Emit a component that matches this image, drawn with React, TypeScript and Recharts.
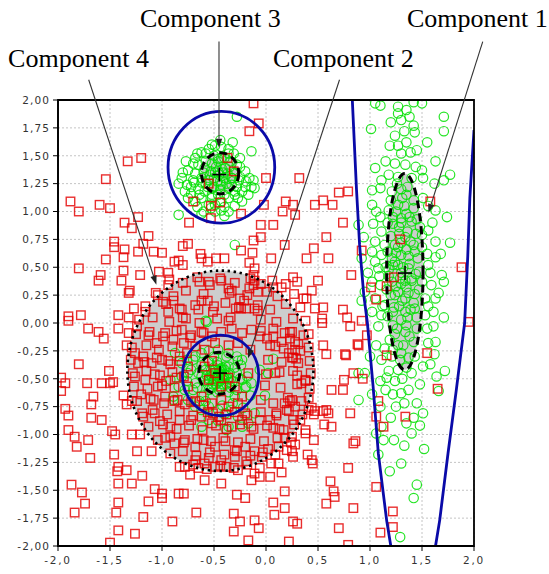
import React from 'react';
import {
  ScatterChart,
  Scatter,
  XAxis,
  YAxis,
  CartesianGrid,
  ReferenceArea,
  ReferenceLine,
  ReferenceDot,
} from 'recharts';

// ---------- axis ticks ----------
const xTicks = [-2, -1.5, -1, -0.5, 0, 0.5, 1, 1.5, 2];
const yTicks = [-2, -1.75, -1.5, -1.25, -1, -0.75, -0.5, -0.25, 0, 0.25, 0.5, 0.75, 1, 1.25, 1.5, 1.75, 2];

// ---------- red squares (class A) ----------
const redSquares: [number, number][] = [
  [-0.12, 1.97], [-1.33, 1.45], [-1.2, 1.48], [-1.54, 1.29], [-1.88, 1.09], [-1.8, 1.0], [-1.6, 1.06], [-1.5, 1.03],
  [-0.16, 1.72], [-0.07, 1.79], [-0.74, 0.9], [-1.36, 0.9], [-1.29, 0.85], [-1.23, 0.95], [-1.13, 0.78], [-1.46, 0.73],
  [-1.46, 0.68], [-1.36, 0.66], [-1.37, 0.59], [-1.54, 0.57], [-1.8, 0.49], [-1.23, 0.64], [-1.18, 0.71], [-1.08, 0.64],
  [-1.0, 0.63], [-0.8, 0.69], [-0.75, 0.71], [-0.63, 0.62], [-0.88, 0.55], [-0.84, 0.56], [-0.8, 0.52], [-0.94, 0.45],
  [-1.37, 0.47], [-1.21, 0.43], [-1.59, 0.43], [-1.61, 0.38], [-1.39, 0.38], [-1.31, 0.29], [-1.32, 0.27], [-0.62, 0.58],
  [-0.56, 0.55], [-0.48, 0.58], [-0.4, 0.58], [-0.24, 0.65], [-0.13, 0.63], [-0.12, 0.74], [-0.16, 0.54], [-0.11, 0.49],
  [-0.12, 0.43], [-0.05, 0.77], [-0.05, 0.88], [-0.02, 1.06], [0.0, 1.3], [-0.24, 0.98], [-0.53, 0.94], [-0.7, 1.09],
  [-0.53, 1.05], [-0.44, 1.08], [-0.37, 1.48], [-0.31, 1.36], [-0.55, 1.25], [-1.03, 0.46], [-0.94, 0.34], [-1.04, 0.25],
  [-0.99, 0.19], [-0.89, 0.2], [-0.81, 0.12], [-0.94, 0.1], [-0.64, 0.37], [-0.54, 0.34], [-0.43, 0.38], [-0.36, 0.31],
  [-0.33, 0.29], [-0.25, 0.22], [-0.21, 0.2], [-0.19, 0.13], [-0.11, 0.13], [-0.08, 0.11], [-0.62, 0.2], [-0.56, 0.2],
  [-0.65, 0.12], [-0.51, 0.1], [-0.29, 0.13], [-1.9, 0.06], [-1.78, 0.07], [-1.42, 0.07], [-1.32, 0.05], [-1.27, 0.13],
  [-1.16, 0.1], [-0.12, 0.34], [-0.11, 0.38], [-0.08, 0.28], [-0.16, 0.31], [-0.34, 0.05], [-0.8, 0.05], [-0.24, 0.13],
  [0.32, 1.3], [0.19, 1.09], [0.26, 1.06], [0.16, 1.0], [0.28, 0.97], [0.47, 1.06], [0.55, 1.1], [0.64, 1.06],
  [0.7, 1.17], [0.79, 1.18], [0.74, 0.9], [0.07, 0.88], [0.58, 0.77], [0.18, 0.7], [0.46, 0.67], [0.39, 0.58],
  [0.6, 0.58], [0.05, 0.58], [0.92, 0.65], [1.29, 0.75], [1.58, 1.09], [0.82, 0.43], [0.26, 0.41], [0.3, 0.37],
  [0.5, 0.38], [0.15, 0.32], [0.07, 0.32], [0.44, 0.29], [0.36, 0.22], [0.39, 0.22], [0.55, 0.14], [0.47, 0.13],
  [0.74, 0.12], [1.01, 0.32], [1.16, 0.33], [1.23, 0.41], [1.06, 0.21], [1.88, 0.5], [1.95, 0.01], [0.78, 0.05],
  [0.92, 0.02], [0.54, 0.04], [1.16, -0.29], [1.55, -0.27], [1.65, -0.59], [0.97, -0.11], [0.89, -0.2], [0.77, -0.29],
  [0.84, -0.45], [0.93, -0.5],
  [0.07, -0.05], [0.01, -0.14], [0.18, -0.09], [0.25, -0.08], [0.28, -0.17], [0.41, -0.1], [0.22, -0.27], [0.26, -0.31],
  [0.55, -0.2], [0.58, -0.28], [0.76, -0.28], [0.88, -0.19], [0.81, -0.03], [0.54, 0.0], [0.75, -0.51], [0.63, -0.6],
  [0.74, -0.6], [0.38, -0.52], [0.26, -0.43], [0.09, -0.45], [0.41, -0.67], [0.23, -0.7], [0.55, -0.79], [0.6, -0.81],
  [0.46, -0.82], [0.63, -0.93], [0.56, -0.91], [0.81, -0.81], [1.08, -0.7], [1.06, -0.84], [1.13, -0.93], [1.34, -0.84],
  [0.38, -0.99], [0.46, -1.05], [0.28, -1.09], [0.25, -1.15], [0.4, -1.18], [0.45, -1.26], [0.86, -1.06], [0.84, -1.08],
  [0.79, -1.3], [0.05, -1.26], [0.15, -1.34], [0.04, -1.38], [0.18, -1.51], [0.18, -1.66], [0.07, -1.61], [0.08, -1.72],
  [0.62, -1.42], [0.65, -1.51], [0.66, -1.56], [0.58, -1.62], [0.84, -1.66], [1.06, -1.47], [1.22, -1.69], [1.22, -1.83],
  [1.1, -1.88], [0.7, -1.84], [0.26, -1.78], [0.3, -1.8], [0.22, -1.96], [0.79, -1.99],
  [0.09, -0.21], [0.15, -0.17], [0.23, -0.14], [0.28, -0.24], [0.33, -0.25], [0.25, -0.31], [0.31, -0.36], [0.34, -0.54],
  [0.38, -0.51], [0.25, -0.69], [0.18, -0.72], [0.28, -0.75], [0.1, -0.81], [0.2, -0.78], [0.04, -0.87], [0.07, -0.94],
  [0.25, -1.02], [0.18, -1.03], [0.12, -1.11], [0.02, -1.13], [0.12, -1.26], [0.44, -0.76], [0.47, -0.79], [0.26, -0.87],
  [0.17, -0.96], [0.41, -0.78], [0.58, -0.78], [0.33, -0.87], [0.38, -0.96], [0.2, -1.14], [0.26, -1.2], [0.44, -1.23],
  [-1.9, 0.02], [-1.71, -0.05], [-1.61, -0.08], [-1.56, -0.14], [-1.42, -0.05], [-1.32, -0.09], [-1.34, -0.2], [-1.26, -0.27],
  [-1.8, -0.37], [-1.51, -0.43], [-1.97, -0.49], [-1.93, -0.54], [-1.97, -0.61], [-1.72, -0.54], [-1.58, -0.54], [-1.47, -0.53],
  [-1.5, -0.54], [-1.66, -0.66], [-1.68, -0.73], [-1.37, -0.65], [-1.34, -0.73], [-1.29, -0.7], [-1.93, -0.77], [-1.9, -0.83],
  [-1.68, -0.85], [-1.58, -0.87], [-1.9, -0.96], [-1.84, -1.02], [-1.82, -1.11], [-1.71, -1.05], [-1.48, -0.97], [-1.45, -1.0],
  [-1.29, -1.0], [-1.21, -1.0], [-1.24, -1.15], [-1.1, -1.15], [-1.46, -1.18], [-1.69, -1.21], [-1.42, -1.29], [-1.43, -1.33],
  [-1.34, -1.32], [-1.19, -1.37], [-1.87, -1.45], [-1.77, -1.52], [-1.74, -1.62], [-1.84, -1.7], [-1.42, -1.44], [-1.29, -1.44],
  [-1.42, -1.61], [-1.44, -1.7], [-1.18, -1.74], [-1.42, -1.86], [-1.26, -1.89], [-1.5, -1.97], [-1.07, -1.49], [-1.0, -1.53],
  [-1.0, -1.57], [-0.84, -1.53], [-0.79, -1.53], [-1.13, -1.6], [-0.9, -1.78], [-0.67, -1.7], [-0.59, -1.41], [-0.43, -1.44],
  [-0.28, -1.54], [-0.2, -1.57], [-0.31, -1.71], [-0.11, -1.77], [-0.25, -1.78], [-0.07, -1.84], [-0.31, -1.87], [-0.17, -1.95],
  [-0.06, -1.38], [-0.14, -1.41], [-0.73, -1.36],
  [-1.24, -0.03], [-1.13, -0.11], [-1.05, -0.18], [-0.97, -0.09], [-0.89, -0.15], [-0.81, -0.06], [-0.72, -0.11], [-0.62, -0.08],
  [-0.52, -0.12], [-0.43, -0.08], [-0.33, -0.05], [-0.23, -0.09], [-0.14, -0.06], [-0.06, -0.12], [-1.23, -0.36], [-1.18, -0.3],
  [-1.1, -0.36], [-1.0, -0.33], [-0.92, -0.37], [-0.83, -0.34], [-0.76, -0.27], [-0.68, -0.21], [-0.59, -0.24], [-0.49, -0.18],
  [-0.36, -0.2], [-0.27, -0.18], [-0.15, -0.24], [-1.26, -0.48], [-1.16, -0.51], [-1.07, -0.46], [-1.04, -0.57], [-0.96, -0.52],
  [-0.86, -0.49], [-0.75, -0.57], [-1.2, -0.64], [-1.08, -0.69], [-0.97, -0.66], [-0.88, -0.7], [-0.78, -0.73], [-0.68, -0.7],
  [-1.18, -0.84], [-1.07, -0.81], [-1.02, -0.88], [-0.92, -0.93], [-0.83, -0.87], [-0.72, -0.87], [-0.62, -0.84], [-0.52, -0.9],
  [-0.43, -0.87], [-0.33, -0.93], [-0.23, -0.87], [-0.14, -0.93], [-0.06, -0.87], [-0.97, -1.03], [-0.88, -1.08], [-0.78, -1.05],
  [-0.68, -1.11], [-0.6, -1.05], [-0.49, -1.11], [-0.39, -1.06], [-0.3, -1.14], [-0.2, -1.11], [-0.11, -1.15], [-0.04, -1.2],
  [-0.68, -1.23], [-0.55, -1.21], [-0.43, -1.23], [-0.3, -1.2], [-0.19, -1.24], [-0.78, -1.29], [-0.65, -1.3], [-0.59, -1.26],
  [-0.49, -1.29], [-0.38, -1.29], [-0.27, -1.32], [-0.11, -1.35],
  [-0.59, -0.39], [-0.52, -0.34], [-0.49, -0.45], [-0.55, -0.51], [-0.43, -0.57], [-0.36, -0.49], [-0.3, -0.57], [-0.43, -0.69],
  [-0.52, -0.72], [-0.62, -0.66], [-0.36, -0.75], [-0.27, -0.72], [-0.23, -0.66], [-0.17, -0.45], [-0.75, -0.39], [-0.2, -0.81],
  [-0.51, -0.81], [-0.38, -0.82],
  // denser reading of the component-4 disk
  [-0.93, 0.39], [-0.8, 0.36], [-0.66, 0.41], [-0.55, 0.37], [-0.44, 0.4], [-0.3, 0.36], [-0.15, 0.4], [-0.05, 0.35],
  [0.06, 0.38], [0.19, 0.35], [-1.06, 0.27], [-0.89, 0.24], [-0.77, 0.29], [-0.6, 0.26], [-0.35, 0.27], [-0.18, 0.25],
  [0.01, 0.28], [0.11, 0.24], [0.27, 0.26], [-1.16, 0.15], [-0.96, 0.17], [-0.83, 0.13], [-0.68, 0.16], [-0.5, 0.15],
  [-0.39, 0.18], [-0.26, 0.14], [-0.08, 0.16], [0.04, 0.12], [0.19, 0.17], [0.33, 0.14], [-1.22, 0.03], [-1.09, 0.05],
  [-0.93, 0.01], [-0.77, 0.04], [-0.64, 0.0], [-0.47, 0.04], [-0.36, 0.02], [-0.05, 0.03], [0.1, 0.01], [0.26, 0.04],
  [0.38, 0.02], [-1.25, -0.1], [-1.12, -0.08], [-0.99, -0.12], [-0.86, -0.07], [-0.73, -0.13], [-0.6, -0.09], [-0.05, -0.07],
  [0.07, -0.12], [0.23, -0.08], [0.36, -0.11], [-1.29, -0.22], [-1.15, -0.2], [-1.03, -0.24], [-0.9, -0.21], [-0.79, -0.18],
  [0.04, -0.2], [0.17, -0.23], [0.31, -0.19], [0.41, -0.22], [-1.3, -0.33], [-1.17, -0.35], [-1.05, -0.31], [-0.94, -0.34],
  [-0.83, -0.3], [0.02, -0.33], [0.15, -0.35], [0.29, -0.32], [0.42, -0.34], [-1.28, -0.45], [-1.15, -0.43], [-1.02, -0.47],
  [-0.9, -0.44], [-0.79, -0.48], [0.0, -0.46], [0.13, -0.44], [0.3, -0.47], [0.43, -0.45], [-1.27, -0.57], [-1.14, -0.59],
  [-1.0, -0.56], [-0.88, -0.58], [-0.01, -0.56], [0.14, -0.58], [0.3, -0.55], [0.42, -0.59], [-1.24, -0.7], [-1.11, -0.68],
  [-0.98, -0.72], [-0.85, -0.69], [-0.72, -0.71], [-0.6, -0.74], [-0.05, -0.69], [0.07, -0.72], [0.21, -0.67], [0.34, -0.7],
  [-1.19, -0.81], [-1.09, -0.78], [-0.95, -0.82], [-0.83, -0.79], [-0.7, -0.83], [-0.56, -0.8], [-0.45, -0.84], [-0.3, -0.8],
  [-0.18, -0.83], [-0.05, -0.8], [0.1, -0.83], [0.22, -0.79], [0.35, -0.82], [-1.13, -0.93], [-0.99, -0.91], [-0.86, -0.95],
  [-0.74, -0.92], [-0.61, -0.96], [-0.48, -0.92], [-0.38, -0.95], [-0.25, -0.91], [-0.12, -0.95], [0.01, -0.92], [0.13, -0.95],
  [0.27, -0.91], [-1.04, -1.05], [-0.92, -1.02], [-0.79, -1.07], [-0.66, -1.04], [-0.53, -1.06], [-0.41, -1.03], [-0.27, -1.07],
  [-0.15, -1.04], [-0.02, -1.06], [0.11, -1.03], [0.24, -1.07], [-0.92, -1.17], [-0.8, -1.15], [-0.67, -1.19], [-0.54, -1.16],
  [-0.4, -1.18], [-0.28, -1.15], [-0.15, -1.19], [-0.03, -1.16], [0.09, -1.18], [-0.83, -1.29], [-0.7, -1.27], [-0.57, -1.31],
  [-0.44, -1.28], [-0.31, -1.3], [-0.18, -1.27], [-0.06, -1.3],
];

// ---------- green circles (class B) ----------
const greenCircles: [number, number][] = [
  // component 3
  [-0.68, 1.48], [-0.62, 1.53], [-0.55, 1.56], [-0.49, 1.59], [-0.43, 1.58], [-0.36, 1.56], [-0.31, 1.52], [-0.65, 1.42],
  [-0.75, 1.37], [-0.81, 1.3], [-0.84, 1.25], [-0.76, 1.24], [-0.7, 1.28], [-0.62, 1.3], [-0.54, 1.33], [-0.46, 1.36],
  [-0.39, 1.39], [-0.33, 1.3], [-0.25, 1.31], [-0.19, 1.27], [-0.14, 1.22], [-0.11, 1.21], [-0.23, 1.18], [-0.3, 1.15],
  [-0.36, 1.12], [-0.43, 1.09], [-0.49, 1.06], [-0.55, 1.06], [-0.62, 1.12], [-0.68, 1.09], [-0.75, 1.12], [-0.72, 1.16],
  [-0.59, 1.18], [-0.52, 1.21], [-0.43, 1.24], [-0.36, 1.21], [-0.52, 1.43], [-0.46, 1.45], [-0.43, 1.48], [-0.59, 1.39],
  [-0.28, 1.42], [-0.2, 1.36], [-0.68, 1.34], [-0.49, 1.0], [-0.43, 1.01], [-0.36, 1.0], [-0.52, 1.12], [-0.46, 1.15],
  [-0.23, 1.09], [-0.17, 1.15], [-0.45, 1.33], [-0.5, 1.3], [-0.4, 1.3], [-0.42, 1.38], [-0.48, 1.4], [-0.38, 1.25],
  [-0.55, 1.28], [-0.5, 1.22], [-0.44, 1.2], [-0.35, 1.4], [-0.6, 1.35], [-0.3, 1.35], [-0.65, 1.2], [-0.28, 1.22],
  [-0.58, 1.45], [-0.4, 1.48], [-0.36, 1.52], [-0.47, 1.27], [-0.53, 1.36], [-0.33, 1.3], [-0.62, 1.26], [-0.46, 1.47],
  [-0.25, 1.4], [-0.72, 1.22], [-0.52, 1.15], [-0.4, 1.15], [-0.3, 1.18],
  [-0.78, 1.18], [-0.66, 1.04], [-0.6, 1.0], [-0.4, 1.04], [-0.3, 1.05], [-0.27, 1.12], [-0.16, 1.3], [-0.12, 1.28],
  [-0.2, 1.22], [-0.8, 1.35], [-0.77, 1.45], [-0.7, 1.43], [-0.66, 1.52], [-0.58, 1.52], [-0.5, 1.5], [-0.34, 1.45],
  [-0.25, 1.48], [-0.32, 1.62], [-0.44, 1.64], [-0.52, 1.6], [-0.58, 1.25], [-0.64, 1.15], [-0.41, 1.35], [-0.37, 1.34],
  [-0.49, 1.35], [-0.44, 1.27], [-0.56, 1.22], [-0.33, 1.24], [-0.26, 1.28], [-0.69, 1.26], [-0.53, 1.03], [-0.62, 0.98],
  [-0.4, 0.96],
  [-0.28, 1.85], [-0.14, 1.54], [-0.84, 0.97], [-0.3, 0.7],
  // component 1
  [1.05, 1.97], [1.1, 1.95], [1.27, 1.94], [1.42, 1.98], [1.5, 1.97], [1.27, 1.88], [1.35, 1.91], [1.3, 1.82],
  [1.42, 1.77], [1.71, 1.85], [1.71, 1.72], [1.01, 1.74], [1.24, 1.68], [1.19, 1.59], [1.27, 1.59], [1.35, 1.62],
  [1.43, 1.71], [1.3, 1.52], [1.39, 1.53], [1.24, 1.43], [1.34, 1.42], [1.44, 1.4], [1.5, 1.37], [1.63, 1.45],
  [1.05, 1.39], [1.18, 1.33], [1.27, 1.31], [1.4, 1.3], [1.51, 1.3], [1.77, 1.33], [1.71, 1.28], [1.02, 1.19],
  [1.1, 1.21], [1.11, 1.28], [1.21, 1.18], [1.51, 1.12], [1.63, 1.01], [1.74, 0.95], [1.02, 1.06], [1.06, 1.0],
  [1.18, 1.01], [1.27, 1.06], [1.35, 0.98], [1.42, 1.03], [0.89, 0.88], [1.03, 0.89], [1.11, 0.82], [1.22, 0.89],
  [1.3, 0.94], [1.4, 0.91], [1.48, 0.86], [1.56, 0.83], [0.94, 0.77], [1.05, 0.73], [1.14, 0.7], [1.24, 0.7],
  [1.39, 0.73], [1.5, 0.79], [1.63, 0.73], [1.77, 0.72], [0.92, 0.58], [1.02, 0.64], [1.11, 0.61], [1.21, 0.58],
  [1.3, 0.61], [1.43, 0.64], [1.55, 0.62], [1.63, 0.59], [1.08, 0.49], [1.18, 0.48], [1.27, 0.52], [1.37, 0.49],
  [1.47, 0.46], [1.56, 0.52], [1.69, 0.43], [1.02, 0.37], [0.95, 0.28], [1.1, 0.34], [1.21, 0.37], [1.3, 0.35],
  [1.4, 0.38], [1.5, 0.37], [1.59, 0.34], [1.71, 0.37], [0.92, 0.2], [1.05, 0.22], [1.14, 0.16], [1.24, 0.25],
  [1.34, 0.22], [1.43, 0.26], [1.53, 0.22], [1.63, 0.22], [1.11, 0.07], [1.22, 0.1], [1.34, 0.1], [1.43, 0.13],
  [1.53, 0.07], [1.71, 0.05], [1.61, 0.1],
  [1.3, 0.72], [1.25, 0.63], [1.37, 0.6], [1.3, 0.45], [1.25, 0.33], [1.37, 0.27], [1.3, 0.9], [1.33, 1.05],
  [1.28, 0.8], [1.36, 0.82], [1.32, 0.5], [1.28, 0.15], [1.36, 0.05], [1.22, 0.52], [1.4, 0.4], [1.34, 0.38],
  [1.26, -0.05], [1.38, -0.12], [1.32, -0.2], [1.3, 1.2], [1.35, 1.15], [1.22, 0.95], [1.42, 0.7], [1.2, 0.25],
  [1.42, 0.18],
  [1.26, 1.25], [1.36, 1.22], [1.2, 1.1], [1.31, 1.12], [1.42, 1.1], [1.25, 1.0], [1.38, 0.95], [1.17, 0.9],
  [1.45, 0.93], [1.28, 0.86], [1.34, 0.77], [1.2, 0.78], [1.44, 0.8], [1.27, 0.68], [1.17, 0.64], [1.35, 0.66],
  [1.46, 0.58], [1.24, 0.55], [1.38, 0.53], [1.15, 0.5], [1.29, 0.4], [1.44, 0.44], [1.18, 0.42], [1.35, 0.32],
  [1.27, 0.28], [1.47, 0.3], [1.16, 0.3], [1.31, 0.2], [1.23, 0.14], [1.39, 0.12], [1.17, 0.06], [1.3, 0.03],
  [1.45, 0.05], [1.24, -0.1], [1.34, -0.08], [1.19, -0.15], [1.42, -0.17], [1.29, -0.33], [1.21, -0.3], [1.35, -0.4],
  [1.24, -0.52], [1.31, -0.5], [1.43, -0.3], [1.15, -0.6], [1.25, -0.75], [1.33, -0.72], [1.48, -0.55], [1.4, -0.45],
  [1.2, -0.85], [1.1, -0.75], [1.56, 0.15], [1.58, 0.45], [1.12, 0.15], [1.09, 0.42], [1.5, 0.68], [1.1, 0.95],
  [1.6, 0.9], [1.15, 1.45], [1.45, 1.55], [1.33, 1.72], [1.2, 1.8], [1.55, 1.62], [1.38, 1.85], [1.62, 1.25],
  [1.56, 1.05], [1.05, 0.55], [0.98, 0.45], [1.68, 0.62], [1.66, 0.27], [1.02, 0.1], [1.0, -0.3], [1.55, -0.05],
  [1.62, -0.28], [1.48, -0.92], [1.23, -1.05], [1.33, -1.1],
  [1.08, -0.03], [1.22, -0.02], [1.35, -0.02], [1.45, -0.05], [1.61, -0.03], [1.06, -0.2], [1.14, -0.23], [1.22, -0.24],
  [1.3, -0.27], [1.37, -0.31], [1.27, -0.2], [1.56, -0.18], [1.63, -0.17], [1.51, -0.39], [1.58, -0.37], [1.72, -0.43],
  [1.64, -0.48], [1.11, -0.33], [1.18, -0.43], [1.27, -0.42], [0.95, -0.45], [1.1, -0.52], [1.16, -0.49], [1.22, -0.64],
  [1.3, -0.63], [1.37, -0.6], [1.45, -0.72], [1.02, -0.64], [0.89, -0.69], [1.51, -0.81], [1.42, -0.85], [1.35, -0.9],
  [1.4, -0.99], [1.11, -0.93], [1.13, -1.05], [1.06, -0.99], [1.08, -1.18], [1.52, -1.13], [1.3, -1.26], [1.19, -1.33],
  [1.45, -1.45], [1.42, -1.57], [1.29, -1.92], [1.66, -0.61], [0.89, -0.45],
  // component 2
  [-0.875, -0.27], [-0.81, -0.36], [-0.76, -0.33], [-0.68, -0.3], [-0.62, -0.27], [-0.55, -0.25], [-0.46, -0.24], [-0.36, -0.27],
  [-0.28, -0.3], [-0.23, -0.33], [-0.81, -0.48], [-0.75, -0.45], [-0.84, -0.57], [-0.78, -0.6], [-0.68, -0.54], [-0.62, -0.48],
  [-0.52, -0.45], [-0.43, -0.42], [-0.36, -0.39], [-0.28, -0.45], [-0.23, -0.51], [-0.19, -0.57], [-0.14, -0.54], [-0.75, -0.69],
  [-0.68, -0.75], [-0.62, -0.78], [-0.55, -0.75], [-0.46, -0.78], [-0.39, -0.81], [-0.33, -0.78], [-0.27, -0.84], [-0.36, -0.93],
  [-0.46, -0.88], [-0.55, -0.87], [-0.62, -0.93], [-0.23, -0.93], [-0.17, -0.9], [-0.11, -0.81], [-0.92, -0.51], [-0.89, -0.69],
  [-0.06, -0.42],
  [-0.45, -0.47], [-0.5, -0.45], [-0.4, -0.5], [-0.48, -0.55], [-0.42, -0.4], [-0.55, -0.5], [-0.35, -0.45], [-0.46, -0.38],
  [-0.52, -0.58], [-0.38, -0.55], [-0.44, -0.52], [-0.5, -0.4], [-0.4, -0.42], [-0.58, -0.42], [-0.32, -0.52], [-0.47, -0.62],
  [-0.55, -0.6], [-0.36, -0.62], [-0.6, -0.52], [-0.3, -0.4], [-0.43, -0.46], [-0.47, -0.5], [-0.41, -0.48], [-0.5, -0.52],
  [-0.45, -0.42], [-0.38, -0.47], [-0.52, -0.47], [-0.44, -0.58], [-0.56, -0.55], [-0.34, -0.58], [-0.65, -0.45], [-0.25, -0.5],
  [-0.7, -0.6], [-0.2, -0.58], [-0.6, -0.65], [-0.3, -0.66],
  [-0.46, -0.45], [-0.42, -0.5], [-0.48, -0.48], [-0.44, -0.44], [-0.4, -0.46], [-0.5, -0.5], [-0.46, -0.53], [-0.43, -0.41],
  [-0.53, -0.43], [-0.37, -0.5], [-0.49, -0.42], [-0.41, -0.55], [-0.51, -0.55], [-0.39, -0.39], [-0.57, -0.47], [-0.35, -0.53],
  [-0.45, -0.6], [-0.47, -0.35], [-0.62, -0.38], [-0.28, -0.6], [-0.66, -0.58], [-0.24, -0.38], [-0.72, -0.42], [-0.18, -0.48],
  [-0.58, -0.7], [-0.32, -0.72], [-0.5, -0.3], [-0.38, -0.3], [-0.76, -0.52], [-0.15, -0.65], [-0.7, -0.33], [-0.22, -0.76],
  [-0.42, -0.74], [-0.64, -0.7], [-0.27, -0.34], [-0.55, -0.35],
  // scattered
  [0.07, -0.32], [0.02, -0.45], [-0.57, 0.01], [-0.58, 0.02], [-0.01, -0.65], [-0.89, -0.66], [-0.38, -0.96],
];

// ---------- model boundaries / components ----------
const boundaryLeft: [number, number][] = [
  [0.83, 2.0], [0.87, 1.2], [0.9, 0.7], [0.94, 0.25], [0.975, 0.0], [1.03, -0.57], [1.08, -1.17], [1.16, -1.77], [1.2, -2.0],
];
const boundaryRight: [number, number][] = [
  [2.0, 1.73], [1.96, 1.12], [1.94, 0.6], [1.91, 0.0], [1.83, -0.6], [1.75, -1.17], [1.67, -1.77], [1.63, -2.0],
];

// bounding boxes [x1, x2, y1, y2]
const comp1Inner = [1.16, 1.51, -0.42, 1.34];
const comp2Inner = [-0.647, -0.253, -0.638, -0.263];
const comp2Outer = [-0.804, -0.07, -0.832, -0.108];
const comp3Inner = [-0.621, -0.262, 1.158, 1.527];
const comp3Outer = [-0.942, 0.084, 0.895, 1.898];
const comp4Outer = [-1.333, 0.456, -1.327, 0.47];

const centers: [number, number][] = [
  [1.337, 0.448], [-0.442, -0.449], [-0.449, 1.331],
];

// annotations
const labels: { text: string; x: number; y: number }[] = [
  { text: 'Component 3', x: -1.212, y: 2.655 },
  { text: 'Component 1', x: 1.356, y: 2.655 },
  { text: 'Component 4', x: -2.48, y: 2.296 },
  { text: 'Component 2', x: 0.067, y: 2.296 },
];
const arrows: { from: [number, number]; to: [number, number] }[] = [
  { from: [-0.452, 2.524], to: [-0.452, 1.572] },
  { from: [2.084, 2.524], to: [1.562, 0.988] },
  { from: [-1.705, 2.182], to: [-1.054, 0.344] },
  { from: [0.707, 2.182], to: [-0.173, -0.317] },
];

const toPts = (arr: [number, number][]) => arr.map(([x, y]) => ({ x, y }));

const Square = (p: any) => (
  <rect x={p.cx - 4.25} y={p.cy - 4.25} width={8.5} height={8.5} fill="none" stroke="#e40000" strokeOpacity={0.82} strokeWidth={1.4} />
);
const Ring = (p: any) => (
  <circle cx={p.cx} cy={p.cy} r={4.7} fill="none" stroke="#00e000" strokeOpacity={0.85} strokeWidth={1.2} />
);
const Nothing = () => <g />;

const ellipseShape = (style: any) => (p: any) => (
  <ellipse
    cx={p.x + p.width / 2}
    cy={p.y + p.height / 2}
    rx={Math.abs(p.width) / 2}
    ry={Math.abs(p.height) / 2}
    {...style}
  />
);

const fillStyle = { fill: '#cdcdcd', stroke: 'none' };
const dashStyle = { fill: 'none', stroke: '#000', strokeWidth: 3, strokeDasharray: '8 5' };
const dotStyle = { fill: 'none', stroke: '#000', strokeWidth: 2.6, strokeDasharray: '2.4 3.6' };
const blueStyle = { fill: 'none', stroke: '#0a0aa8', strokeWidth: 2.8 };

const arrowShape = (p: any) => {
  const { x1, y1, x2, y2 } = p;
  const a = Math.atan2(y2 - y1, x2 - x1);
  const L = 9;
  const W = 3.2;
  const bx = x2 - L * Math.cos(a);
  const by = y2 - L * Math.sin(a);
  const px = -Math.sin(a) * W;
  const py = Math.cos(a) * W;
  return (
    <g>
      <line x1={x1} y1={y1} x2={bx} y2={by} stroke="#333" strokeWidth={1.1} />
      <polygon points={`${x2},${y2} ${bx + px},${by + py} ${bx - px},${by - py}`} fill="#222" />
    </g>
  );
};

const plusShape = (p: any) => (
  <g stroke="#000" strokeWidth={1.6}>
    <line x1={p.cx - 7} y1={p.cy} x2={p.cx + 7} y2={p.cy} />
    <line x1={p.cx} y1={p.cy - 7} x2={p.cx} y2={p.cy + 7} />
  </g>
);

const labelShape = (text: string) => (p: any) => (
  <text x={p.cx} y={p.cy} fontFamily="Liberation Serif" fontSize={26} fill="#000">
    {text}
  </text>
);

const fmtX = (v: number) => v.toFixed(1).replace('.', ',');
const fmtY = (v: number) => v.toFixed(2).replace('.', ',');

const XTick = (p: any) => (
  <text x={p.x} y={p.y} dy={11} textAnchor="middle" fontFamily="DejaVu Sans" fontSize={10.5} letterSpacing={1.8} fill="#333">
    {fmtX(p.payload.value)}
  </text>
);
const YTick = (p: any) => (
  <text x={p.x} y={p.y} dy={3.8} textAnchor="end" fontFamily="DejaVu Sans" fontSize={10.5} letterSpacing={1.1} fill="#333">
    {fmtY(p.payload.value)}
  </text>
);

const area = (b: number[], style: any, key: string, z: number) => (
  <ReferenceArea
    key={key}
    x1={b[0]}
    x2={b[1]}
    y1={b[2]}
    y2={b[3]}
    ifOverflow="visible"
    shape={ellipseShape(style)}
    zIndex={z}
  />
);

export default function App() {
  return (
    <div style={{ position: 'absolute', left: 0, top: 0, width: 549, height: 574, background: '#fff' }}>
      <ScatterChart width={549} height={574} margin={{ top: 100, right: 75, bottom: 3, left: 8 }}>
        <CartesianGrid stroke="#c4c4c4" strokeDasharray="2 2" />
        <XAxis
          type="number"
          dataKey="x"
          domain={[-2, 2]}
          ticks={xTicks}
          allowDataOverflow
          height={25}
          tickSize={5}
          tick={XTick}
          axisLine={{ stroke: '#000', strokeWidth: 1.5 }}
          tickLine={{ stroke: '#000' }}
        />
        <YAxis
          type="number"
          dataKey="y"
          domain={[-2, 2]}
          ticks={yTicks}
          allowDataOverflow
          width={50}
          tickSize={5}
          tickMargin={3}
          tick={YTick}
          axisLine={{ stroke: '#000', strokeWidth: 1.5 }}
          tickLine={{ stroke: '#000' }}
        />

        {area(comp4Outer, fillStyle, 'f4', 50)}
        {area(comp1Inner, fillStyle, 'f1', 51)}
        {area(comp3Inner, fillStyle, 'f3', 51)}
        {area(comp2Inner, fillStyle, 'f2', 51)}

        <Scatter data={toPts(greenCircles)} shape={Ring} isAnimationActive={false} zIndex={590} />
        <Scatter data={toPts(redSquares)} shape={Square} isAnimationActive={false} zIndex={600} />

        {area(comp4Outer, dotStyle, 'o4', 700)}
        {area(comp1Inner, dashStyle, 'o1', 700)}
        {area(comp3Inner, dashStyle, 'o3', 700)}
        {area(comp2Inner, dashStyle, 'o2', 700)}
        {area(comp3Outer, blueStyle, 'b3', 700)}
        {area(comp2Outer, blueStyle, 'b2', 700)}

        <Scatter
          data={toPts(boundaryLeft)}
          shape={Nothing}
          line={{ stroke: '#0a0aa8', strokeWidth: 2.8 }}
          lineType="joint"
          isAnimationActive={false}
          zIndex={700}
        />
        <Scatter
          data={toPts(boundaryRight)}
          shape={Nothing}
          line={{ stroke: '#0a0aa8', strokeWidth: 2.8 }}
          lineType="joint"
          isAnimationActive={false}
          zIndex={700}
        />

        {centers.map(([x, y], i) => (
          <ReferenceDot key={'c' + i} x={x} y={y} ifOverflow="visible" shape={plusShape} zIndex={800} />
        ))}

        <ReferenceArea x1={-2} x2={2} y1={-2} y2={2} fill="none" stroke="#000" strokeWidth={1.8} ifOverflow="visible" zIndex={850} />

        {arrows.map((a, i) => (
          <ReferenceLine
            key={'a' + i}
            segment={[{ x: a.from[0], y: a.from[1] }, { x: a.to[0], y: a.to[1] }]}
            ifOverflow="visible"
            shape={arrowShape}
            zIndex={900}
          />
        ))}
        {labels.map((l, i) => (
          <ReferenceDot key={'l' + i} x={l.x} y={l.y} ifOverflow="visible" shape={labelShape(l.text)} zIndex={900} />
        ))}
      </ScatterChart>
    </div>
  );
}
